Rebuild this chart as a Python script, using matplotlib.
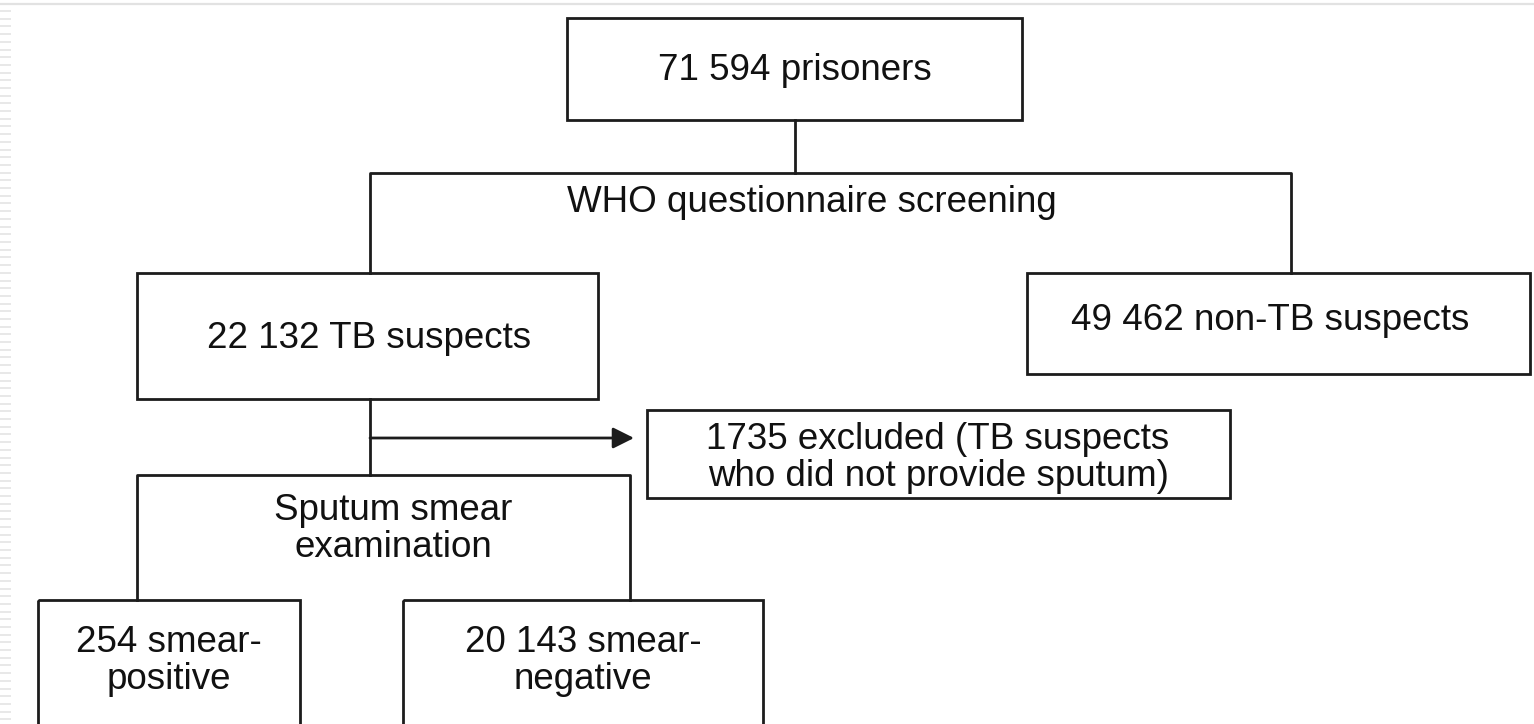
import numpy as np
import matplotlib.pyplot as plt
from matplotlib.patches import Rectangle, FancyArrowPatch

plt.rcParams['font.family'] = ['Liberation Sans', 'DejaVu Sans']

# flowchart content
top_label = "71 594 prisoners"
screen_label = "WHO questionnaire screening"
suspect_label = "22 132 TB suspects"
non_suspect_label = "49 462 non-TB suspects"
excluded_label = "1735 excluded (TB suspects\nwho did not provide sputum)"
smear_label = "Sputum smear\nexamination"
positive_label = "254 smear-\npositive"
negative_label = "20 143 smear-\nnegative"

W, H = 1534, 724
fig = plt.figure(figsize=(W / 100, H / 100), dpi=100)
ax = fig.add_axes([0, 0, 1, 1])
ax.set_xlim(0, W)
ax.set_ylim(H, 0)
ax.axis('off')

ink = '#1c1c1c'
lw = 2.0
fs = 26.5

# page decoration: grey rule on top, striped left margin
ax.plot([0, W], [4, 4], color='#e2e2e2', lw=1.6)
ax.hlines(np.arange(11, H, 7.7), 0, 11, color='#e4e4e4', lw=1.2)


def box(x0, y0, x1, y1):
    ax.add_patch(Rectangle((x0, y0), x1 - x0, y1 - y0, fill=False,
                           edgecolor=ink, lw=lw))


def bracket(x0, y0, x1, y1):
    # box with open bottom, sides running down to the children
    ax.plot([x0, x0, x1, x1], [y1, y0, y0, y1], color=ink, lw=lw)


def label(x, y, s):
    ax.text(x, y, s, ha='center', va='center', fontsize=fs, color='#111111',
            linespacing=1.04)


# top box
box(567, 18, 1022, 120)
label(795, 70, top_label)
ax.plot([795, 795], [120, 173], color=ink, lw=lw)

# WHO screening
bracket(370, 173, 1291, 273)
label(812, 203, screen_label)

box(137, 273, 598, 399)
label(369, 338, suspect_label)

box(1027, 273, 1530, 374)
label(1270, 320, non_suspect_label)

# exclusion arrow
ax.plot([370, 370], [399, 475], color=ink, lw=lw)
ax.add_patch(FancyArrowPatch((370, 438), (634, 438), arrowstyle='-|>',
                             mutation_scale=32, color=ink, lw=lw,
                             shrinkA=0, shrinkB=0))
box(647, 410, 1230, 498)
label(938, 458, excluded_label)

# smear examination
bracket(137, 475, 630, 600)
label(393, 529, smear_label)

box(38, 600, 300, 740)
label(169, 661, positive_label)

box(403, 600, 763, 740)
label(583, 661, negative_label)

fig.savefig('out.png', dpi=100)
